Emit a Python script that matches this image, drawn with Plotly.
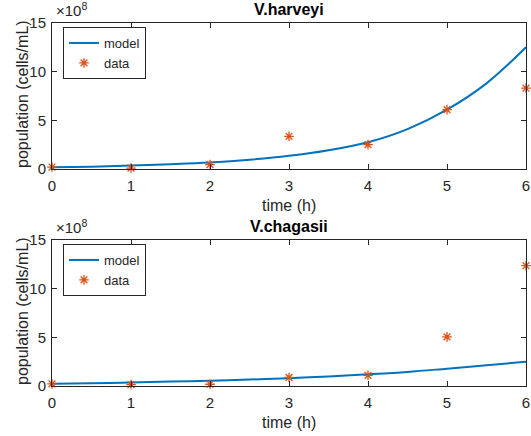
import plotly.graph_objects as go

# ---- data (cells/mL) ----
t_data = [0, 1, 2, 3, 4, 5, 6]
harveyi_data = [0.20e8, 0.10e8, 0.45e8, 3.36e8, 2.50e8, 6.10e8, 8.30e8]
chagasii_data = [0.22e8, 0.15e8, 0.18e8, 0.88e8, 1.10e8, 5.05e8, 12.36e8]

t_model = [0, 0.5, 1, 1.5, 2, 2.5, 3, 3.5, 4, 4.5, 5, 5.5, 6]
harveyi_model = [0.17e8, 0.24e8, 0.35e8, 0.49e8, 0.67e8, 0.95e8, 1.35e8,
                 1.92e8, 2.75e8, 4.1e8, 6.1e8, 8.8e8, 12.5e8]
chagasii_model = [0.22e8, 0.28e8, 0.36e8, 0.45e8, 0.55e8, 0.66e8, 0.80e8,
                  0.98e8, 1.20e8, 1.45e8, 1.78e8, 2.12e8, 2.50e8]

x_ticks = [0, 1, 2, 3, 4, 5, 6]
y_ticks = [0, 5e8, 10e8, 15e8]
y_tick_labels = ["0", "5", "10", "15"]
titles = ["V.harveyi", "V.chagasii"]
x_label = "time (h)"
y_label = "population (cells/mL)"

BLUE = "#0072BD"
ORANGE = "#D95319"
AX = "#262626"
FONT = "Liberation Sans, Arial, sans-serif"

W, H = 531, 436
px = lambda v: v / W
py = lambda v: 1 - v / H

fig = go.Figure()

panels = [
    dict(model=harveyi_model, data=harveyi_data, top=23, bottom=169,
         xa="x", ya="y", legend="legend"),
    dict(model=chagasii_model, data=chagasii_data, top=240, bottom=386,
         xa="x2", ya="y2", legend="legend2"),
]

for p in panels:
    fig.add_trace(go.Scatter(
        x=t_model, y=p["model"], mode="lines", name="model",
        line=dict(color=BLUE, width=2, shape="spline"),
        xaxis=p["xa"], yaxis=p["ya"], legend=p["legend"]))
    fig.add_trace(go.Scatter(
        x=t_data, y=p["data"], mode="markers", name="data",
        marker=dict(symbol="asterisk-open", size=8, color=ORANGE,
                    line=dict(color=ORANGE, width=1.3)),
        cliponaxis=False,
        xaxis=p["xa"], yaxis=p["ya"], legend=p["legend"]))

left, right = 52, 526
axis_common = dict(
    showline=True, linecolor=AX, linewidth=1, mirror="ticks",
    ticks="inside", ticklen=5, tickwidth=1, tickcolor=AX,
    showgrid=False, zeroline=False, automargin=False,
    tickfont=dict(family=FONT, size=15, color=AX),
)

layout = dict(
    width=W, height=H,
    margin=dict(l=0, r=0, t=0, b=0),
    paper_bgcolor="white", plot_bgcolor="white",
    font=dict(family=FONT, color=AX),
    showlegend=True,
)

annotations = []
for i, p in enumerate(panels):
    sfx = "" if i == 0 else "2"
    layout["xaxis" + sfx] = dict(
        axis_common, domain=[px(left), px(right)], range=[0, 6],
        tickvals=x_ticks, anchor="y" + sfx, ticklabelstandoff=3,
        ticklabeloverflow="allow")
    layout["yaxis" + sfx] = dict(
        axis_common, domain=[py(p["bottom"]), py(p["top"])],
        range=[0, 15e8], tickvals=y_ticks, ticktext=y_tick_labels,
        anchor="x" + sfx, ticklabelstandoff=2)
    legend_key = "legend" if i == 0 else "legend2"
    layout[legend_key] = dict(
        x=px(63), y=py(p["top"] + 4), xanchor="left", yanchor="top",
        bgcolor="white", bordercolor=AX, borderwidth=1,
        font=dict(family=FONT, size=13, color=AX),
        tracegroupgap=0, itemwidth=30,
    )
    # title
    annotations.append(dict(
        text="<b>%s</b>" % titles[i], x=px(289), y=py(p["top"] - 14),
        xref="paper", yref="paper", xanchor="center", yanchor="middle",
        showarrow=False, font=dict(family=FONT, size=16, color="black")))
    # x label
    annotations.append(dict(
        text=x_label, x=px(289), y=py(p["bottom"] + 36),
        xref="paper", yref="paper", xanchor="center", yanchor="middle",
        showarrow=False, font=dict(family=FONT, size=16, color=AX)))
    # y label
    annotations.append(dict(
        text=y_label, x=px(22), y=py((p["top"] + p["bottom"]) / 2 - 2),
        xref="paper", yref="paper", xanchor="center", yanchor="middle",
        textangle=-90, showarrow=False,
        font=dict(family=FONT, size=16, color=AX)))
    # exponent
    annotations.append(dict(
        text="×10<sup>8</sup>", x=px(54), y=py(p["top"] - 2),
        xref="paper", yref="paper", xanchor="left", yanchor="bottom",
        showarrow=False, font=dict(family=FONT, size=15, color=AX)))

layout["annotations"] = annotations
fig.update_layout(**layout)

fig.write_html("out.html",
               config={"displayModeBar": False},
               post_script="document.body.style.margin='0';"
                           "document.body.style.overflow='hidden';")
